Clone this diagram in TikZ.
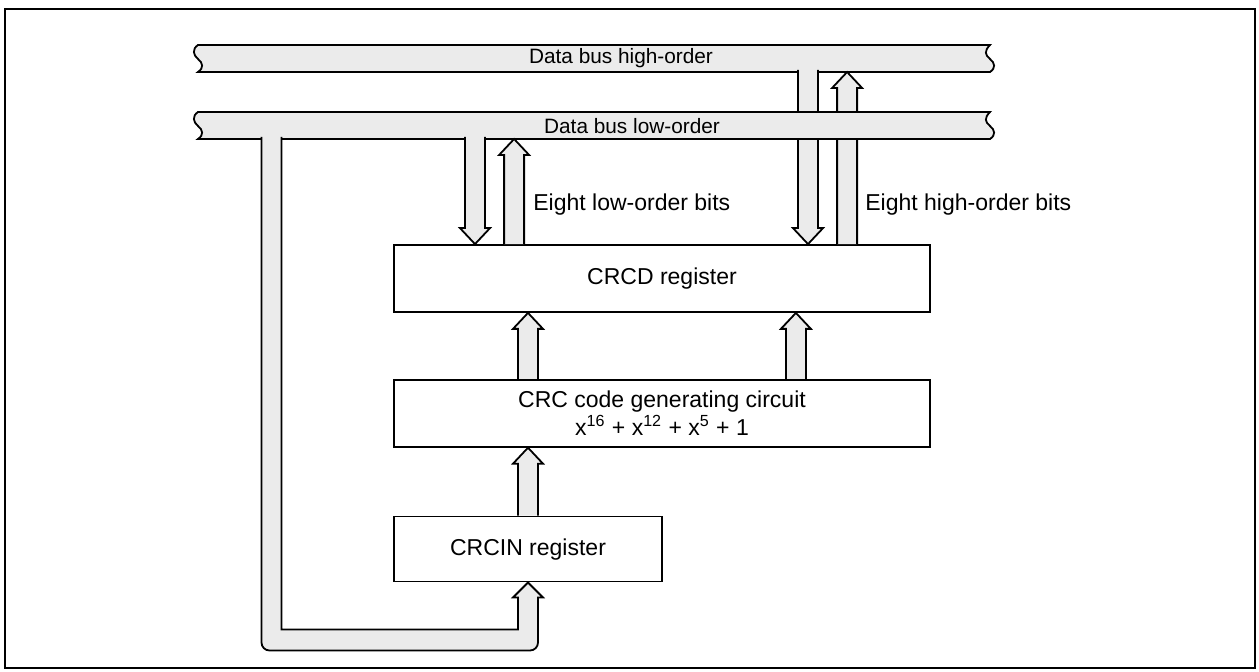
\documentclass[tikz,border=0pt]{standalone}
\usepackage{fontspec}
\setmainfont{Liberation Sans}
\usetikzlibrary{calc, positioning}

\tikzset{
    reg/.style={draw, line width=0.9pt, fill=white, inner sep=0pt, align=center,
        minimum width=268pt, minimum height=33.5pt, font=\fontsize{11.5}{14}\selectfont},
    busfill/.style={draw, line width=0.9pt, fill=black!8},
    buslabel/.style={inner sep=0pt, font=\fontsize{10.4}{12}\selectfont},
    bitlabel/.style={anchor=west, inner sep=0pt, font=\fontsize{11.5}{14}\selectfont}
}

% hollow arrow: #1 = start (gives x), #2 = tip (gives y)
\newcommand{\hollowup}[2]{%
    \filldraw[busfill] let \p1=#1, \p2=#2 in
        (\x1-5pt,\y1) -- (\x1-5pt,\y2-8pt) -- (\x1-7.5pt,\y2-8pt) -- (\x1,\y2)
        -- (\x1+7.5pt,\y2-8pt) -- (\x1+5pt,\y2-8pt) -- (\x1+5pt,\y1);}
\newcommand{\hollowdown}[2]{%
    \filldraw[busfill] let \p1=#1, \p2=#2 in
        (\x1-5pt,\y1) -- (\x1-5pt,\y2+8pt) -- (\x1-7.5pt,\y2+8pt) -- (\x1,\y2)
        -- (\x1+7.5pt,\y2+8pt) -- (\x1+5pt,\y2+8pt) -- (\x1+5pt,\y1);}

\begin{document}
\begin{tikzpicture}[x=0.5pt, y=-0.5pt]
    \useasboundingbox (0,0) rectangle (1259,672);

    % 1. Frame
    \draw[line width=0.9pt] (5,9) rectangle (1255,668);

    % 2. Registers
    \node[reg] (crcd) at (662,278.5) {CRCD register};
    \node[reg, below=33pt of crcd] (crcgen)
        {CRC code generating circuit\\
         x\textsuperscript{16} + x\textsuperscript{12} + x\textsuperscript{5} + 1};
    \node[reg, minimum width=134pt, minimum height=32.5pt,
        below right=34pt and 0pt of crcgen.south west] (crcin) {CRCIN register};

    % 3. High-order data bus and its two arrows
    \filldraw[busfill] (198,45) -- (990,45)
        .. controls (984,51) and (985,55) .. (990,59)
        .. controls (995,63) and (996,68) .. (990,72) -- (198,72)
        .. controls (204,68) and (203,63) .. (198,59)
        .. controls (193,55) and (192,49) .. (198,45) -- cycle;
    \node[buslabel] (hibus) at (621,58) {Data bus high-order};
    \coordinate (hidn) at (808,70);
    \coordinate (hiup) at (848,72);
    \hollowdown{(hidn)}{(crcd.north)}
    \hollowup{($(crcd.north west)+(454,0)$)}{(hiup)}

    % 4. Low-order data bus (drawn over the high-order arrows)
    \filldraw[busfill] (198,112) -- (990,112)
        .. controls (984,118) and (985,122) .. (990,126)
        .. controls (995,130) and (996,135) .. (990,139) -- (198,139)
        .. controls (204,135) and (203,130) .. (198,126)
        .. controls (193,122) and (192,116) .. (198,112) -- cycle;
    \node[buslabel] (lobus) at (632,126) {Data bus low-order};
    \coordinate (lodn) at (475,137);
    \coordinate (loup) at (515,139);
    \coordinate (lotap) at (271.5,137);
    \hollowdown{(lodn)}{(crcd.north)}
    \hollowup{($(crcd.north west)+(121,0)$)}{(loup)}

    % pipe from the low-order bus round to CRCIN
    \filldraw[busfill] ($(lotap)+(-10,0)$) [rounded corners=4pt]
        |- ($(crcin.south)+(10,68)$) [sharp corners]
        -- ($(crcin.south)+(10,15)$) -- ($(crcin.south)+(15,15)$) -- (crcin.south)
        -- ($(crcin.south)+(-15,15)$) -- ($(crcin.south)+(-10,15)$)
        -- ($(crcin.south)+(-10,47)$) -| ($(lotap)+(10,0)$);

    % 5. Arrows between the registers
    \hollowup{(crcin.north)}{(crcgen.south)}
    \hollowup{(crcin.north |- crcgen.north)}{(crcd.south)}
    \hollowup{($(crcgen.north east)+(-135,0)$)}{(crcd.south)}

    % 6. Labels of the bit groups
    \node[bitlabel] (lolbl) at (533,205) {Eight low-order bits};
    \node[bitlabel] (hilbl) at (865,205) {Eight high-order bits};
\end{tikzpicture}
\end{document}
